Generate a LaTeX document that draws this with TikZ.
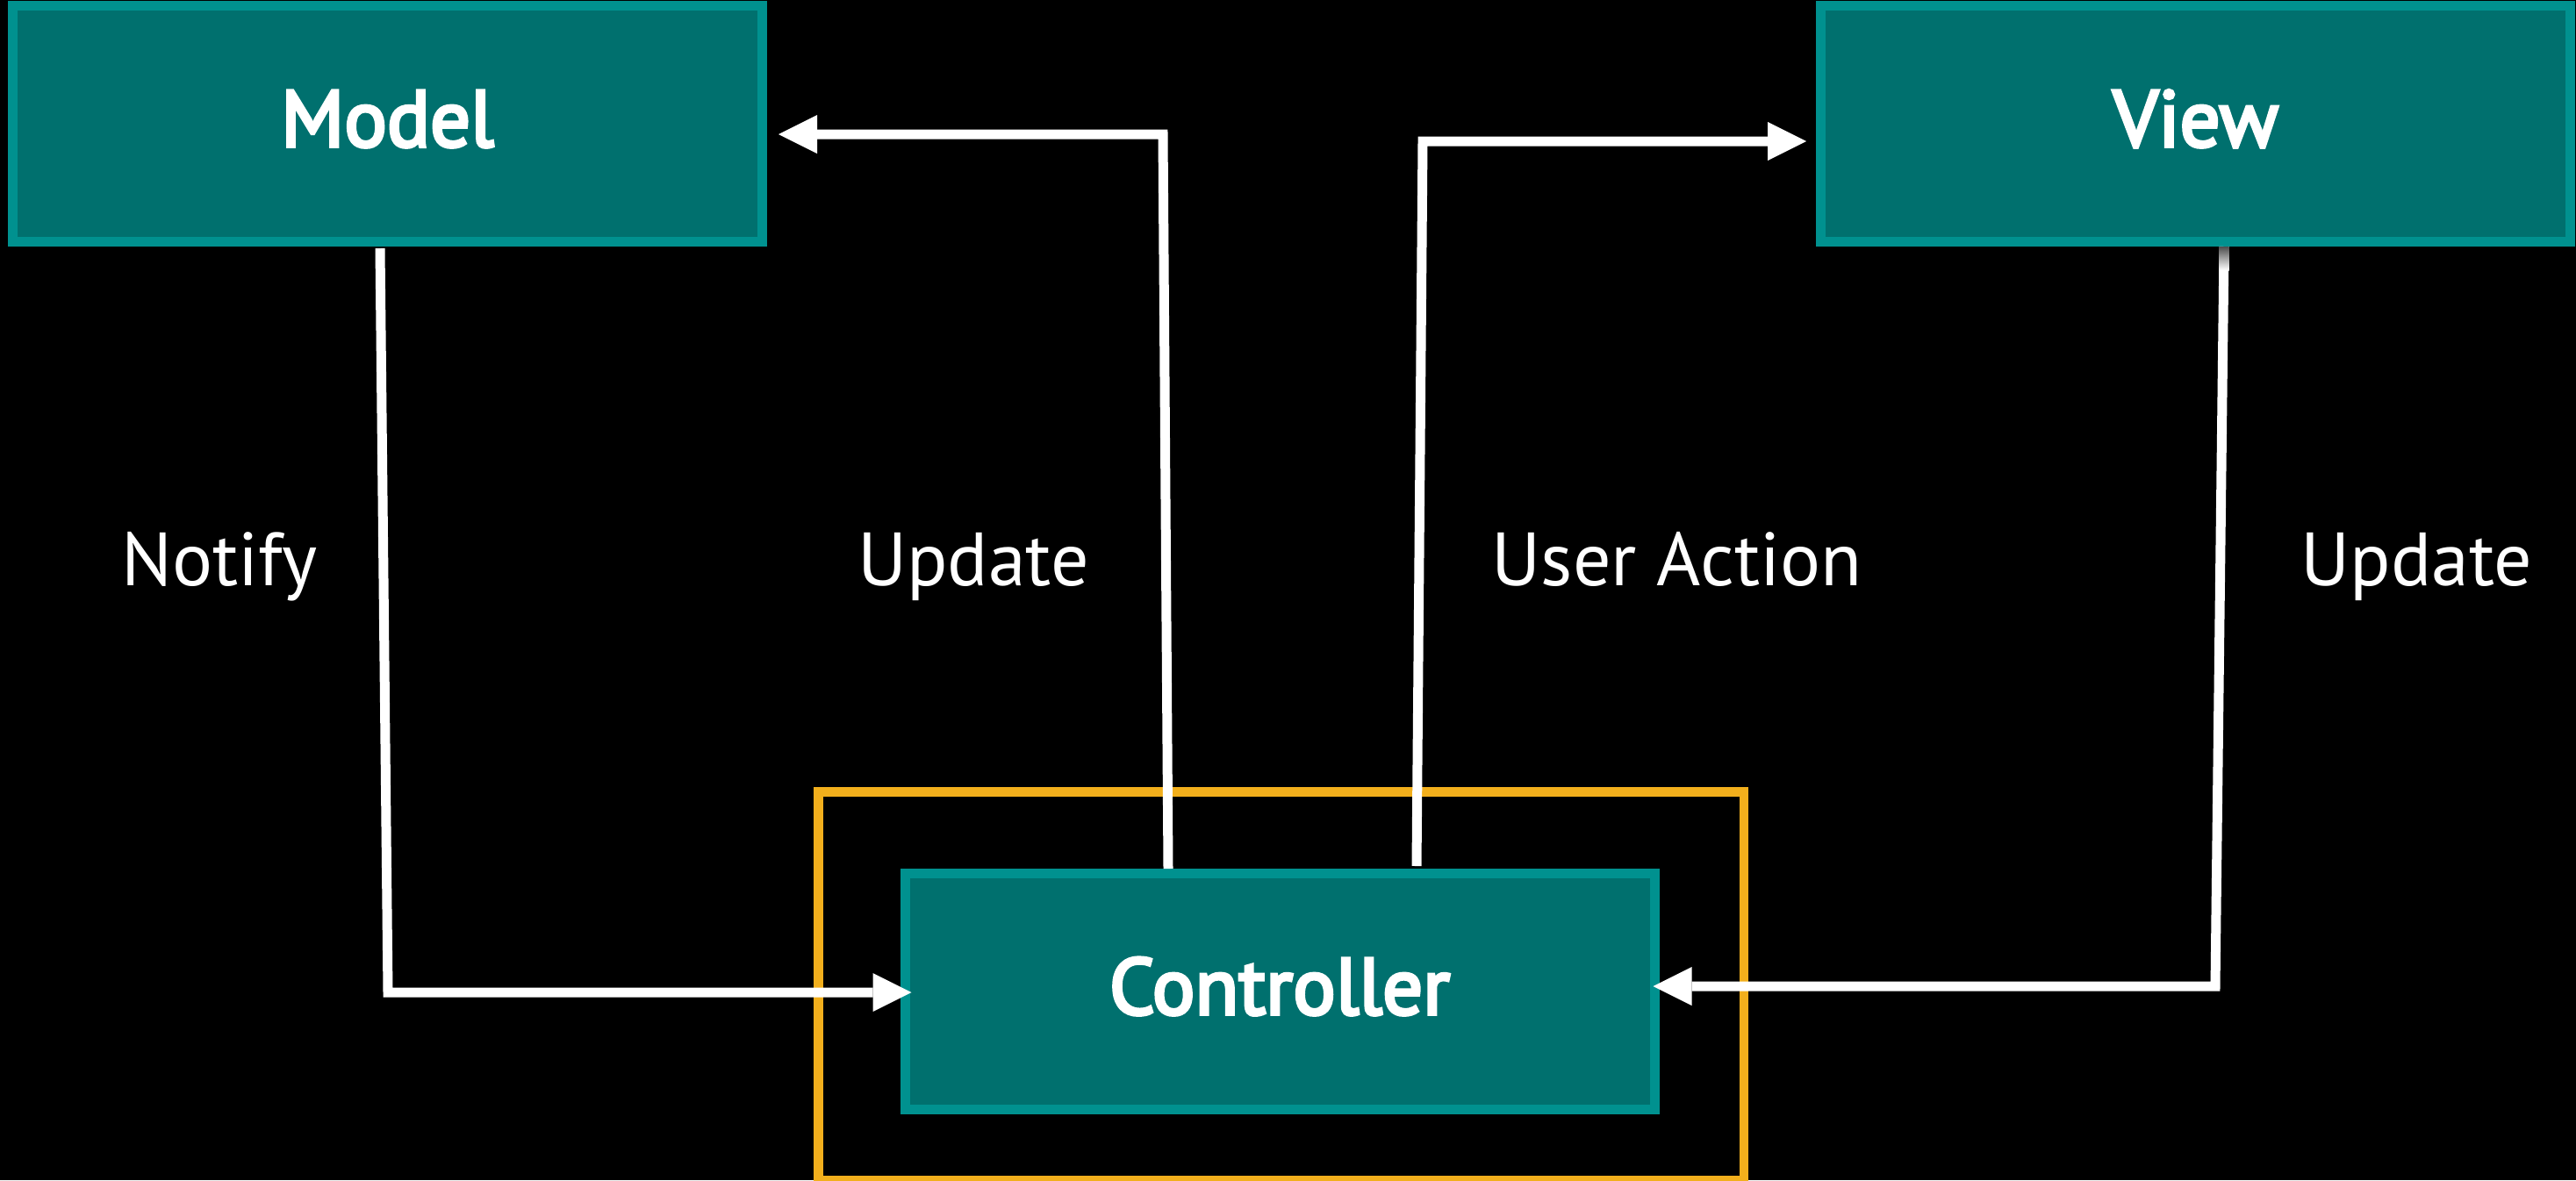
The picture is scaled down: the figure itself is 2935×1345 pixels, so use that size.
\documentclass[tikz,border=0pt]{standalone}
\usepackage{fontspec}
\setmainfont{PT Sans}
\newfontfamily\titlefont{PT Sans}[FakeBold=4]
\usetikzlibrary{arrows.meta,calc}
\definecolor{boxfill}{RGB}{0,112,110}
\definecolor{boxedge}{RGB}{0,145,143}
\definecolor{accent}{RGB}{242,175,28}

\begin{document}
\begin{tikzpicture}[x=1pt,y=-1pt,
  block/.style={draw=boxedge, fill=boxfill, line width=11pt,
    minimum width=854pt, minimum height=269pt, inner sep=0pt,
    text=white, font=\fontsize{91}{100}\titlefont,
    text height=60pt, text depth=8pt},
  flow/.style={draw=white, line width=11pt, line join=miter,
    -{Triangle[length=44pt,width=44pt,line width=0pt]}},
  caption/.style={text=white, font=\fontsize{86}{100}\selectfont,
    anchor=base, inner sep=0pt}]

% canvas
\useasboundingbox (0,0) rectangle (2935,1345);
\fill[black] (0,0) rectangle (2935,1345);

% highlight frame around the controller
\node[draw=accent, line width=10.5pt, minimum width=1054.5pt,
      minimum height=443pt, inner sep=0pt] (frame) at (1459.5,1123.75) {};

% the three components
\node[block] (model) at (441.5,141)  {Model};
\node[block] (view)  at (2501.5,141) {View};
\node[block] (ctrl)  at (1458,1130)  {Controller};

% connector labels
\node[caption] (notify) at (250,667)    {Notify};
\node[caption] (upd1)   at (1109,667)   {Update};
\node[caption] (act)    at (1910.5,667) {User Action};
\node[caption] (upd2)   at (2753.5,667) {Update};

% model -> controller
\draw[flow] ([xshift=-8.5pt,yshift=-2pt]model.south) -- (442,1131)
  -- ([xshift=13pt,yshift=-1pt]ctrl.west);
% controller -> model
\draw[flow] ([xshift=-127pt]ctrl.north) -- (1325,153)
  -- ([xshift=13pt,yshift=-12pt]model.east);
% controller -> view
\draw[flow] ([xshift=156pt,yshift=3pt]ctrl.north) -- (1621,161)
  -- ([xshift=-11pt,yshift=-20pt]view.west);
% view -> controller
\draw[flow] ([xshift=32.5pt]view.south) -- (2524,1124)
  -- ([xshift=-7pt,yshift=6pt]ctrl.east);
% soft start of the view line below its box
\shade[top color=white!30!black, bottom color=white]
  (2528.5,281) rectangle (2539.5,308);
\end{tikzpicture}
\end{document}
